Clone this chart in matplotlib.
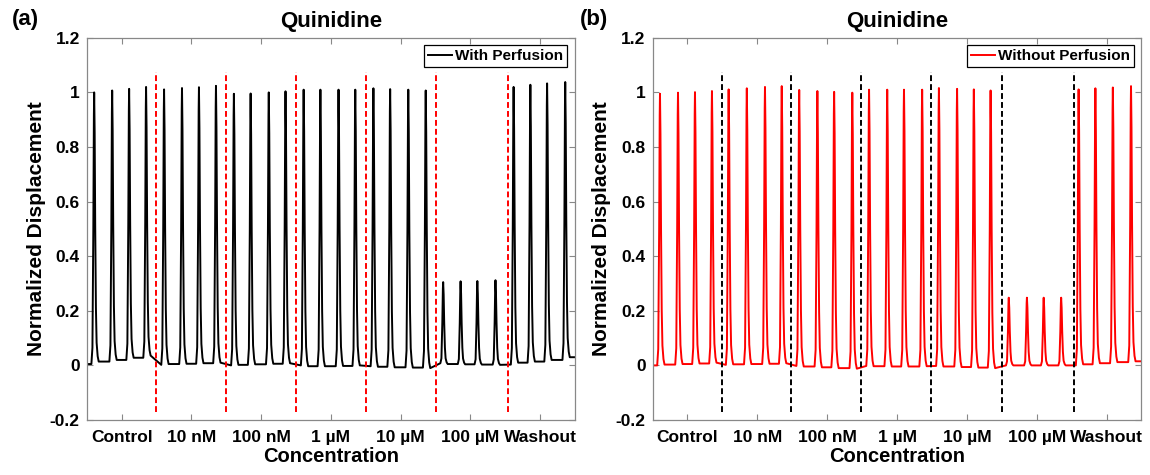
import numpy as np
import matplotlib
matplotlib.use("Agg")
import matplotlib.pyplot as plt

plt.rcParams['font.family'] = ['Liberation Sans', 'DejaVu Sans']
plt.rcParams['font.weight'] = 'bold'

# concentration groups (x axis in seconds, 10 s per group)
groups = ['Control', '10 nM', '100 nM', '1 \u00b5M', '10 \u00b5M', '100 \u00b5M', 'Washout']
tick_pos = [5, 15, 25, 35, 45, 55, 65]

# (a) with perfusion
peak_t_a = [[1.07, 3.65, 6.08, 8.51],
            [11.09, 13.66, 16.09, 18.53],
            [21.1, 23.5, 26.1, 28.5],
            [31.1, 33.5, 36.1, 38.5],
            [41.1, 43.5, 46.1, 48.6],
            [51.1, 53.6, 56.0, 58.6],
            [61.2, 63.6, 66.0, 68.6]]
peak_h_a = [[1.00, 1.007, 1.013, 1.02],
            [1.011, 1.016, 1.019, 1.024],
            [0.995, 0.996, 1.0, 1.004],
            [1.01, 1.01, 1.01, 1.01],
            [1.015, 1.012, 1.01, 1.007],
            [0.305, 0.308, 0.309, 0.312],
            [1.02, 1.028, 1.033, 1.038]]
base_a = [[0.005, 0.014, 0.02, 0.028, 0.036],
          [0.002, 0.005, 0.006, 0.008, 0.01],
          [0.0, 0.002, 0.004, 0.006, 0.008],
          [0.0, -0.003, -0.003, -0.002, 0.0],
          [-0.003, -0.005, -0.007, -0.008, -0.01],
          [0.008, 0.005, 0.004, 0.003, 0.002],
          [0.003, 0.01, 0.014, 0.02, 0.03]]
lines_a = [9.9, 19.95, 29.95, 40.0, 50.1, 60.4]

# (b) without perfusion
peak_t_b = [[1.07, 3.65, 6.08, 8.51],
            [10.9, 13.5, 16.1, 18.5],
            [21.0, 23.6, 26.0, 28.6],
            [31.0, 33.6, 36.0, 38.6],
            [41.0, 43.6, 46.0, 48.4],
            [51.0, 53.6, 56.0, 58.5],
            [61.0, 63.4, 65.9, 68.5]]
peak_h_b = [[0.995, 0.999, 1.001, 1.005],
            [1.011, 1.015, 1.02, 1.023],
            [1.009, 1.005, 1.002, 0.999],
            [1.01, 1.01, 1.01, 1.01],
            [1.016, 1.013, 1.011, 1.007],
            [0.248, 0.248, 0.248, 0.248],
            [1.011, 1.015, 1.018, 1.023]]
base_b = [[0.0, 0.003, 0.005, 0.007, 0.01],
          [0.002, 0.004, 0.005, 0.006, 0.008],
          [-0.002, -0.004, -0.007, -0.01, -0.012],
          [-0.002, -0.003, -0.004, -0.004, -0.003],
          [-0.002, -0.004, -0.006, -0.008, -0.01],
          [0.0, 0.0, 0.0, 0.0, 0.0],
          [0.0, 0.004, 0.008, 0.012, 0.015]]
lines_b = [9.95, 19.8, 29.8, 39.9, 50.0, 60.3]

# shape of one twitch, relative to its peak
pulse_dt = [-0.4, -0.25, -0.12, -0.04, 0.0, 0.07, 0.15, 0.25, 0.35, 0.5, 0.65]
pulse_frac = [0.0, 0.06, 0.5, 0.92, 1.0, 0.85, 0.5, 0.2, 0.07, 0.02, 0.0]


def build_trace(peak_t, peak_h, base, t0, t1):
    xs = [t0]
    ys = [base[0][0]]
    for s in range(len(peak_t)):
        for i in range(len(peak_t[s])):
            pre = base[s][i]
            post = base[s][i + 1]
            for dt, f in zip(pulse_dt, pulse_frac):
                b = pre if dt < 0 else post
                xs.append(peak_t[s][i] + dt)
                ys.append(b + f * (peak_h[s][i] - b))
    xs.append(t1)
    ys.append(base[-1][-1])
    return np.array(xs), np.array(ys)


fig = plt.figure(figsize=(11.5, 4.75), dpi=100)
ax1 = fig.add_axes([0.0754, 0.1158, 0.4246, 0.8046])
ax2 = fig.add_axes([0.5674, 0.1158, 0.4252, 0.8046])

panels = [
    (ax1, peak_t_a, peak_h_a, base_a, lines_a, 'k', 'red', 'With Perfusion', 0.1, 70.0),
    (ax2, peak_t_b, peak_h_b, base_b, lines_b, 'red', 'k', 'Without Perfusion', 0.0, 69.8),
]

for ax, pt, ph, bs, vl, col, lcol, lab, t0, t1 in panels:
    x, y = build_trace(pt, ph, bs, t0, t1)
    ax.plot(x, y, color=col, lw=1.4, label=lab)
    for v in vl:
        ax.plot([v, v], [-0.172, 1.073], color=lcol, lw=1.4, ls=(0, (3, 1.6)))
    ax.set_xlim(0, 70)
    ax.set_ylim(-0.2, 1.2)
    ax.set_xticks(tick_pos)
    ax.set_xticklabels(groups)
    ax.set_yticks([-0.2, 0, 0.2, 0.4, 0.6, 0.8, 1, 1.2])
    ax.set_yticklabels(['-0.2', '0', '0.2', '0.4', '0.6', '0.8', '1', '1.2'])
    ax.tick_params(direction='in', top=True, right=True, length=4, width=0.8,
                   color='#888888', labelsize=12.5)
    ax.tick_params(axis='x', pad=7)
    ax.tick_params(axis='y', pad=5)
    for sp in ax.spines.values():
        sp.set_color('#888888')
        sp.set_linewidth(0.9)
    for t in ax.get_xticklabels() + ax.get_yticklabels():
        t.set_fontweight('bold')
    ax.set_title('Quinidine', fontsize=16, fontweight='bold', pad=8)
    ax.set_xlabel('Concentration', fontsize=14.5, fontweight='bold', labelpad=2)
    ax.set_ylabel('Normalized Displacement', fontsize=15, fontweight='bold', labelpad=3)
    leg = ax.legend(loc='upper right', fancybox=False, edgecolor='k', fontsize=11,
                    handlelength=1.6, handletextpad=0.2, borderpad=0.25,
                    borderaxespad=0.5, framealpha=1)
    leg.get_frame().set_linewidth(0.9)
    for t in leg.get_texts():
        t.set_fontweight('bold')

fig.text(0.010, 0.958, '(a)', fontsize=16, fontweight='bold', va='center')
fig.text(0.504, 0.958, '(b)', fontsize=16, fontweight='bold', va='center')

fig.savefig('out.png', dpi=100)
